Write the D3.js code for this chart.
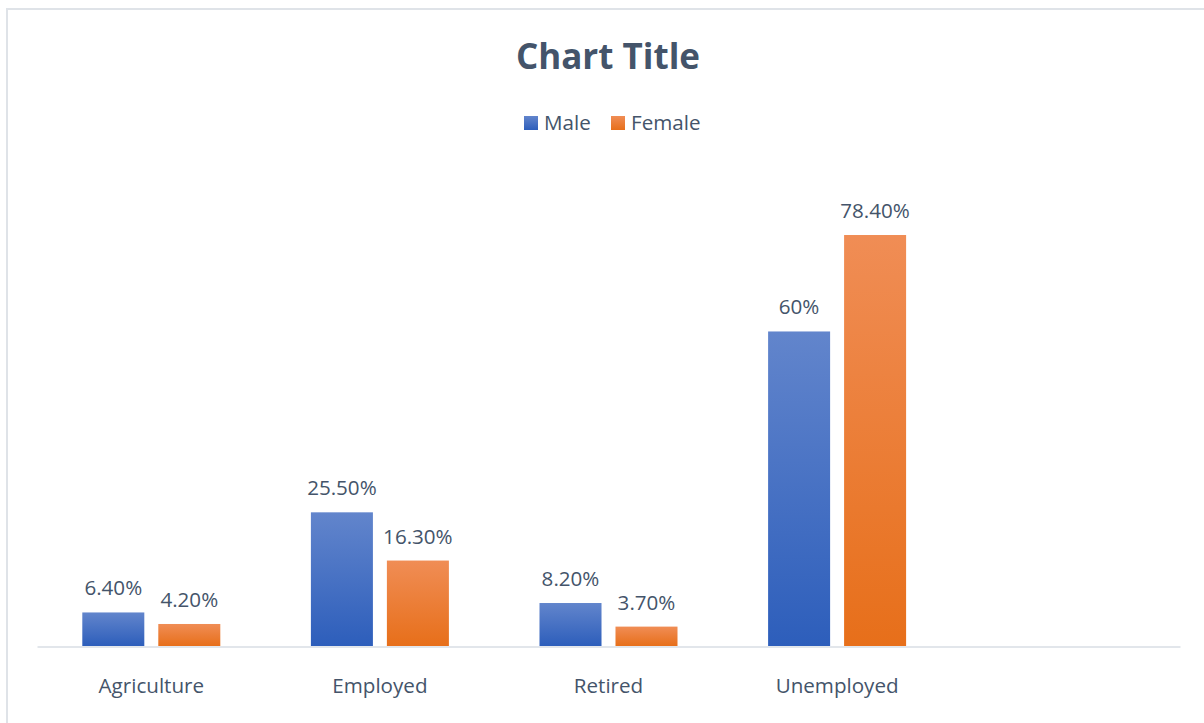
<!DOCTYPE html>
<html>
<head>
<meta charset="utf-8">
<script src="https://cdn.jsdelivr.net/npm/d3@7"></script>
<style>
  html, body { margin: 0; padding: 0; background: #fff; }
  svg { display: block; }
  text { font-family: "Open Sans", Lato, sans-serif; fill: #44546a; }
</style>
</head>
<body>
<svg id="chart" width="1204" height="723"></svg>
<script>
// Chart data
const categories = ["Agriculture", "Employed", "Retired", "Unemployed", ""];
const seriesNames = ["Male", "Female"];
const maleValues = [6.4, 25.5, 8.2, 60];
const femaleValues = [4.2, 16.3, 3.7, 78.4];
const titleText = "Chart Title";

const seriesColors = {
  Male:   { top: "#6285cc", bottom: "#2d5ebb" },
  Female: { top: "#f08d55", bottom: "#e76f1a" }
};

const labelSize = 20.6;
const svg = d3.select("#chart");

// Outer chart frame
svg.append("rect")
  .attr("x", 7).attr("y", 9)
  .attr("width", 1400).attr("height", 900)
  .attr("fill", "#fff")
  .attr("stroke", "#dfe3e8")
  .attr("stroke-width", 2);

// Gradient fills for each series
const defs = svg.append("defs");
seriesNames.forEach(name => {
  const g = defs.append("linearGradient")
    .attr("id", "grad-" + name)
    .attr("x1", 0).attr("y1", 0).attr("x2", 0).attr("y2", 1);
  g.append("stop").attr("offset", "0%").attr("stop-color", seriesColors[name].top);
  g.append("stop").attr("offset", "100%").attr("stop-color", seriesColors[name].bottom);
});

// Scales
const x = d3.scaleBand()
  .domain(categories.map((c, i) => i))
  .range([37, 1180])
  .paddingInner(0).paddingOuter(0);

const groupInset = 45.3;
const xs = d3.scaleBand()
  .domain(seriesNames)
  .range([groupInset, x.bandwidth() - groupInset])
  .paddingInner(0.184).paddingOuter(0);

const y = d3.scaleLinear().domain([0, 90]).range([646, 174.2]);

const fmt = v => Number.isInteger(v) ? v + "%" : v.toFixed(2) + "%";

const rows = [];
maleValues.forEach((v, i) => rows.push({ cat: i, series: "Male", value: v }));
femaleValues.forEach((v, i) => rows.push({ cat: i, series: "Female", value: v }));

// Bars
svg.append("g").selectAll("rect")
  .data(rows)
  .join("rect")
  .attr("x", d => x(d.cat) + xs(d.series))
  .attr("y", d => y(d.value))
  .attr("width", xs.bandwidth())
  .attr("height", d => y(0) - y(d.value))
  .attr("fill", d => "url(#grad-" + d.series + ")");

// Value labels
svg.append("g").selectAll("text")
  .data(rows)
  .join("text")
  .attr("x", d => x(d.cat) + xs(d.series) + xs.bandwidth() / 2)
  .attr("y", d => y(d.value) - 17)
  .attr("text-anchor", "middle")
  .attr("font-size", labelSize)
  .text(d => fmt(d.value));

// Category axis
const xAxis = d3.axisBottom(x)
  .tickSize(0)
  .tickPadding(0)
  .tickFormat(i => categories[i]);

const axisG = svg.append("g")
  .attr("transform", "translate(0,646.5)")
  .call(xAxis);
axisG.select(".domain")
  .attr("stroke", "#d9dee5")
  .attr("stroke-width", 1.6);
axisG.selectAll(".tick text")
  .attr("dy", 0)
  .attr("y", 46.5)
  .attr("font-size", labelSize)
  .attr("font-family", "'Open Sans', Lato, sans-serif")
  .attr("fill", "#44546a");

// Title
svg.append("text")
  .attr("x", 608).attr("y", 69)
  .attr("text-anchor", "middle")
  .attr("font-size", 35)
  .attr("font-weight", "bold")
  .text(titleText);

// Legend
const legendItems = [
  { name: "Male", x: 524 },
  { name: "Female", x: 611 }
];
const lg = svg.append("g").selectAll("g")
  .data(legendItems)
  .join("g")
  .attr("transform", d => `translate(${d.x},116)`);
lg.append("rect")
  .attr("width", 14).attr("height", 14)
  .attr("fill", d => "url(#grad-" + d.name + ")");
lg.append("text")
  .attr("x", 20).attr("y", 14)
  .attr("font-size", labelSize)
  .text(d => d.name);
</script>
</body>
</html>
